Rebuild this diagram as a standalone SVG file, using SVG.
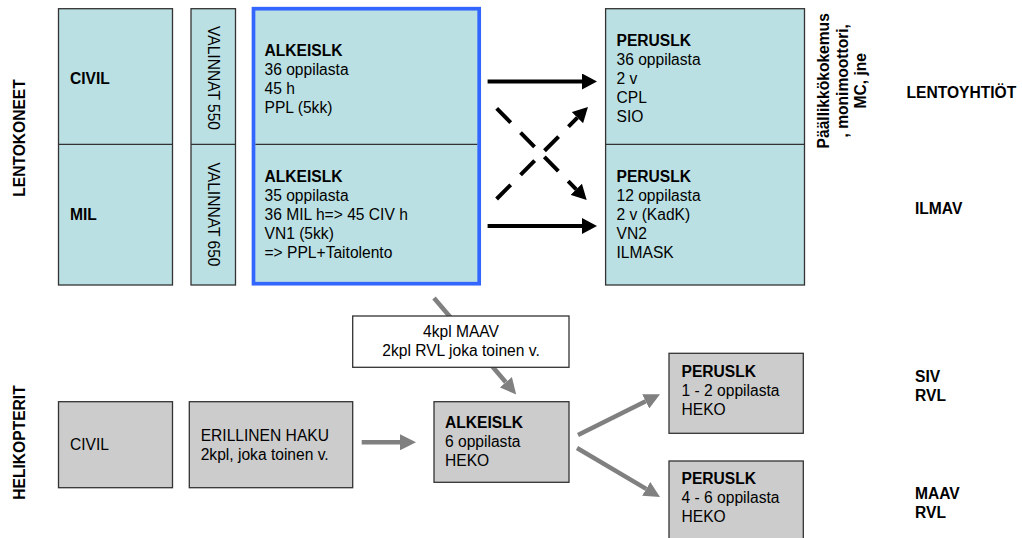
<svg xmlns="http://www.w3.org/2000/svg" width="1022" height="538" viewBox="0 0 1022 538">
<style>
text{font-family:"Liberation Sans",Arial,sans-serif;font-size:15.6px;fill:#000}
.b{font-weight:bold}
.cy{fill:#bbe0e3;stroke:#333;stroke-width:1.3}
.gr{fill:#cccccc;stroke:#333;stroke-width:1.3}
.wh{fill:#fff;stroke:#333;stroke-width:1.3}
.dv{stroke:#333;stroke-width:1.3}
.ka{stroke:#000;stroke-width:4;fill:none}
.ga{stroke:#808080;stroke-width:4.5;fill:none}
</style>
<defs>
<marker id="hk" markerUnits="userSpaceOnUse" viewBox="0 -8 15 16" refX="0" refY="0" markerWidth="15" markerHeight="16" orient="auto"><path d="M0,-8L15,0L0,8z" fill="#000"/></marker>
<marker id="hg" markerUnits="userSpaceOnUse" viewBox="0 -8 16 16" refX="0" refY="0" markerWidth="16" markerHeight="16" orient="auto"><path d="M0,-8L16,0L0,8z" fill="#808080"/></marker>
</defs>

<text class="b" transform="translate(24.5,138) rotate(-90)" text-anchor="middle">LENTOKONEET</text>
<text class="b" transform="translate(24.5,442.5) rotate(-90)" text-anchor="middle">HELIKOPTERIT</text>

<g id="civil-mil">
<rect class="cy" x="58.5" y="8.7" width="114" height="276.3"/>
<line class="dv" x1="58.5" y1="144.3" x2="172.5" y2="144.3"/>
<text class="b" x="70" y="84">CIVIL</text>
<text class="b" x="70" y="220">MIL</text>
</g>

<g id="valinnat">
<rect class="cy" x="191" y="8.7" width="44.5" height="276.3"/>
<line class="dv" x1="191" y1="144.3" x2="235.5" y2="144.3"/>
<text transform="translate(207.5,78) rotate(90)" text-anchor="middle">VALINNAT 550</text>
<text transform="translate(207.5,214.5) rotate(90)" text-anchor="middle">VALINNAT 650</text>
</g>

<g id="alkeislk-lento">
<rect x="253.5" y="8.7" width="225.7" height="275" fill="#bbe0e3" stroke="#3366ff" stroke-width="3.7"/>
<line class="dv" x1="255.4" y1="144.3" x2="477.3" y2="144.3"/>
<text x="264.5" y="56"><tspan class="b">ALKEISLK</tspan><tspan x="264.5" dy="19">36 oppilasta</tspan><tspan x="264.5" dy="19">45 h</tspan><tspan x="264.5" dy="19">PPL (5kk)</tspan></text>
<text x="264.5" y="182"><tspan class="b">ALKEISLK</tspan><tspan x="264.5" dy="19">35 oppilasta</tspan><tspan x="264.5" dy="19">36 MIL h=&gt; 45 CIV h</tspan><tspan x="264.5" dy="19">VN1 (5kk)</tspan><tspan x="264.5" dy="19">=&gt; PPL+Taitolento</tspan></text>
</g>

<g id="peruslk-lento">
<rect class="cy" x="605.6" y="8.7" width="198.9" height="276.3"/>
<line class="dv" x1="605.6" y1="144.3" x2="804.5" y2="144.3"/>
<text x="616.5" y="45.5"><tspan class="b">PERUSLK</tspan><tspan x="616.5" dy="19">36 oppilasta</tspan><tspan x="616.5" dy="19">2 v</tspan><tspan x="616.5" dy="19">CPL</tspan><tspan x="616.5" dy="19">SIO</tspan></text>
<text x="616.5" y="181.5"><tspan class="b">PERUSLK</tspan><tspan x="616.5" dy="19">12 oppilasta</tspan><tspan x="616.5" dy="19">2 v (KadK)</tspan><tspan x="616.5" dy="19">VN2</tspan><tspan x="616.5" dy="19">ILMASK</tspan></text>
</g>

<g id="note-vertical">
<text class="b" transform="translate(0,80.8) rotate(-90)" text-anchor="middle"><tspan x="0" y="829">Päällikkökokemus</tspan><tspan x="0" y="847.5">, monimoottori,</tspan><tspan x="0" y="866">MC, jne</tspan></text>
</g>

<g id="labels-right">
<text class="b" x="906.5" y="97.5">LENTOYHTIÖT</text>
<text class="b" x="915" y="214.3">ILMAV</text>
<text class="b" x="915" y="382.3"><tspan>SIV</tspan><tspan x="915" dy="19">RVL</tspan></text>
<text class="b" x="915" y="499"><tspan>MAAV</tspan><tspan x="915" dy="19">RVL</tspan></text>
</g>

<g id="connectors">
<path class="ka" d="M487.6,81.5H582" marker-end="url(#hk)"/>
<path class="ka" d="M487.6,226H582" marker-end="url(#hk)"/>
<path class="ka" d="M496.7,108.3L576.2,189.3" stroke-dasharray="20 14" marker-end="url(#hk)"/>
<path class="ka" d="M496.6,199L577.4,117.6" stroke-dasharray="20 14" marker-end="url(#hk)"/>
<path class="ga" d="M434,298L505.8,382.3" marker-end="url(#hg)"/>
<path class="ga" d="M361.7,442.3H400" marker-end="url(#hg)"/>
<path class="ga" d="M578,435L645.7,401.3" marker-end="url(#hg)"/>
<path class="ga" d="M577,448L646.2,488.9" marker-end="url(#hg)"/>
</g>

<g id="note-box">
<rect class="wh" x="352.7" y="316" width="216.3" height="51.3"/>
<text x="461" y="336.7" text-anchor="middle"><tspan>4kpl MAAV</tspan><tspan x="461" dy="19">2kpl RVL joka toinen v.</tspan></text>
</g>

<g id="civil-heli">
<rect class="gr" x="58.5" y="401.7" width="114" height="86"/>
<text x="70" y="450">CIVIL</text>
</g>

<g id="erillinen-haku">
<rect class="gr" x="189.3" y="401.7" width="163.4" height="86"/>
<text x="200.7" y="440.7"><tspan>ERILLINEN HAKU</tspan><tspan x="200.7" dy="19.3">2kpl, joka toinen v.</tspan></text>
</g>

<g id="alkeislk-heli">
<rect class="gr" x="434" y="401.7" width="135" height="80.6"/>
<text x="445" y="427.7"><tspan class="b">ALKEISLK</tspan><tspan x="445" dy="19">6 oppilasta</tspan><tspan x="445" dy="19">HEKO</tspan></text>
</g>

<g id="peruslk-heli-1">
<rect class="gr" x="669" y="353.3" width="134.3" height="80"/>
<text x="681.5" y="376.7"><tspan class="b">PERUSLK</tspan><tspan x="681.5" dy="19.2">1 - 2 oppilasta</tspan><tspan x="681.5" dy="19">HEKO</tspan></text>
</g>

<g id="peruslk-heli-2">
<rect class="gr" x="669" y="461" width="134.3" height="84"/>
<text x="681.5" y="484.3"><tspan class="b">PERUSLK</tspan><tspan x="681.5" dy="19">4 - 6 oppilasta</tspan><tspan x="681.5" dy="19">HEKO</tspan></text>
</g>
</svg>
